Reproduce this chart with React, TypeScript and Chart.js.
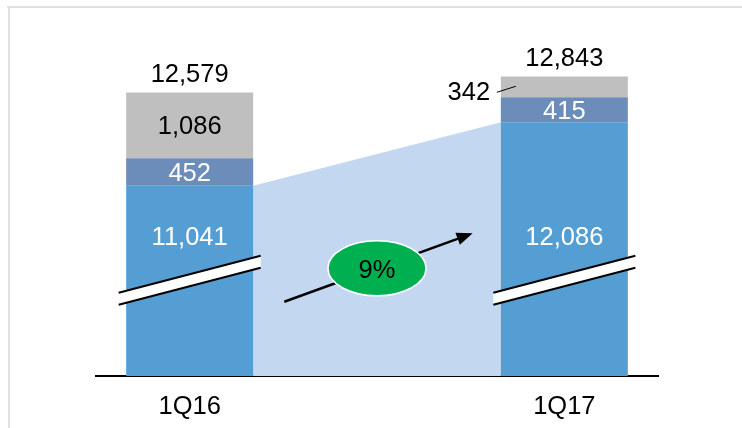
import React, { useEffect, useRef } from 'react';
import { Chart, registerables } from 'chart.js';

Chart.register(...registerables);

// ---- data ----
const categories = ['1Q16', '', '1Q17'];
const coreValues: (number | null)[] = [11041, null, 12086];
const midValues: (number | null)[] = [452, null, 415];
const otherValues: (number | null)[] = [1086, null, 342];
const totalValues: (number | null)[] = [12579, null, 12843];
const growthLabel = '9%';

// ---- axis (broken axis: starts above zero) ----
const AXIS_MIN = 7900;
const AXIS_MAX = 13774;
const BREAK_VALUE = 9480;
const CORE_LABEL_VALUE = 10218;
const GROWTH_VALUE = 9677;

const FONT = '"Liberation Sans", Arial, Helvetica, sans-serif';
const FS = 25.5;
const CAP = FS * 0.716;

const C_CORE = '#559ED3';
const C_MID = '#6C8DBA';
const C_OTHER = '#BFBFBF';
const C_BRIDGE = '#C3D8F0';
const C_GREEN = '#00B050';

const fmt = (v: number) => String(v).replace(/\B(?=(\d{3})+(?!\d))/g, ',');

function textAt(ctx: CanvasRenderingContext2D, s: string, x: number, cy: number, color: string) {
  ctx.fillStyle = color;
  ctx.font = `${FS}px ${FONT}`;
  ctx.textAlign = 'center';
  ctx.textBaseline = 'alphabetic';
  ctx.fillText(s, x, cy + CAP / 2);
}

const overlay = {
  id: 'overlay',
  beforeDraw(chart: any) {
    const ctx = chart.ctx;
    ctx.save();
    ctx.fillStyle = '#FFFFFF';
    ctx.fillRect(0, 0, chart.width, chart.height);
    ctx.fillStyle = '#E1E1E1';
    ctx.fillRect(7, 6, chart.width - 7, 2);
    ctx.fillRect(8, 6, 2, chart.height - 6);
    ctx.restore();
  },
  beforeDatasetsDraw(chart: any) {
    const ctx = chart.ctx;
    const meta = chart.getDatasetMeta(0);
    const a = meta.data[0];
    const b = meta.data[2];
    const bottom = chart.chartArea.bottom;
    ctx.save();
    ctx.fillStyle = C_BRIDGE;
    ctx.beginPath();
    ctx.moveTo(a.x + a.width / 2, a.y);
    ctx.lineTo(b.x - b.width / 2, b.y);
    ctx.lineTo(b.x - b.width / 2, bottom);
    ctx.lineTo(a.x + a.width / 2, bottom);
    ctx.closePath();
    ctx.fill();
    ctx.restore();
  },
  afterDatasetsDraw(chart: any) {
    const ctx = chart.ctx;
    const ys = chart.scales.y;
    const xs = chart.scales.x;
    const m0 = chart.getDatasetMeta(0);
    const m1 = chart.getDatasetMeta(1);
    const m2 = chart.getDatasetMeta(2);
    ctx.save();

    // axis break marks
    [0, 2].forEach((i) => {
      const el = m0.data[i];
      const cx = el.x;
      const hw = el.width / 2 + 7.5;
      const yc = ys.getPixelForValue(BREAK_VALUE);
      const slope = -0.26;
      const yAt = (x: number) => yc + slope * (x - cx);
      const xl = cx - hw;
      const xr = cx + hw;
      ctx.fillStyle = '#FFFFFF';
      ctx.beginPath();
      ctx.moveTo(xl, yAt(xl) - 6);
      ctx.lineTo(xr, yAt(xr) - 6);
      ctx.lineTo(xr, yAt(xr) + 6);
      ctx.lineTo(xl, yAt(xl) + 6);
      ctx.closePath();
      ctx.fill();
      ctx.strokeStyle = '#000000';
      ctx.lineWidth = 2;
      ctx.beginPath();
      ctx.moveTo(xl, yAt(xl) - 6);
      ctx.lineTo(xr, yAt(xr) - 6);
      ctx.moveTo(xl, yAt(xl) + 6);
      ctx.lineTo(xr, yAt(xr) + 6);
      ctx.stroke();
    });

    // labels
    categories.forEach((_, i) => {
      if (coreValues[i] == null) return;
      const e0 = m0.data[i];
      const e1 = m1.data[i];
      const e2 = m2.data[i];
      textAt(ctx, fmt(coreValues[i] as number), e0.x, ys.getPixelForValue(CORE_LABEL_VALUE), '#FFFFFF');
      textAt(ctx, fmt(midValues[i] as number), e1.x, (e1.y + e1.base) / 2, '#FFFFFF');
      const segH = Math.abs(e2.base - e2.y);
      const segC = (e2.y + e2.base) / 2;
      if (segH > 30) {
        textAt(ctx, fmt(otherValues[i] as number), e2.x, segC, '#000000');
      } else {
        const left = e2.x - e2.width / 2;
        textAt(ctx, fmt(otherValues[i] as number), left - 32, segC + 4.5, '#000000');
        ctx.strokeStyle = '#000000';
        ctx.lineWidth = 1;
        ctx.beginPath();
        ctx.moveTo(left - 4, segC + 5.5);
        ctx.lineTo(left + 15, segC - 0.5);
        ctx.stroke();
      }
      textAt(ctx, fmt(totalValues[i] as number), e2.x, e2.y - 19.5, '#000000');
    });

    // growth arrow + ellipse
    const gx = xs.getPixelForValue(1);
    const gy = ys.getPixelForValue(GROWTH_VALUE);
    const sx = gx - 92.7, sy = gy + 33.4;
    const tx = gx + 95.7, ty = gy - 35;
    const dx = tx - sx, dy = ty - sy;
    const len = Math.hypot(dx, dy);
    const ux = dx / len, uy = dy / len;
    const nx = -uy, ny = ux;
    const hl = 16, hwid = 6.5;
    const bx = tx - ux * hl, by = ty - uy * hl;
    ctx.strokeStyle = '#000000';
    ctx.lineWidth = 2.5;
    ctx.beginPath();
    ctx.moveTo(sx, sy);
    ctx.lineTo(bx + ux * 2, by + uy * 2);
    ctx.stroke();
    ctx.fillStyle = '#000000';
    ctx.beginPath();
    ctx.moveTo(tx, ty);
    ctx.lineTo(bx + nx * hwid, by + ny * hwid);
    ctx.lineTo(bx - nx * hwid, by - ny * hwid);
    ctx.closePath();
    ctx.fill();

    ctx.fillStyle = C_GREEN;
    ctx.strokeStyle = '#FFFFFF';
    ctx.lineWidth = 1.5;
    ctx.beginPath();
    ctx.ellipse(gx, gy, 49, 27.5, 0, 0, Math.PI * 2);
    ctx.fill();
    ctx.stroke();
    textAt(ctx, growthLabel, gx, gy + 0.7, '#000000');

    ctx.restore();
  },
};

export default function App() {
  const ref = useRef<HTMLCanvasElement>(null);
  useEffect(() => {
    if (!ref.current) return;
    const chart = new Chart(ref.current, {
      type: 'bar',
      data: {
        labels: categories,
        datasets: [
          { data: coreValues, backgroundColor: C_CORE, borderWidth: 0 },
          { data: midValues, backgroundColor: C_MID, borderWidth: 0 },
          { data: otherValues, backgroundColor: C_OTHER, borderWidth: 0 },
        ],
      },
      options: {
        responsive: false,
        animation: false,
        layout: { padding: { left: 96, right: 84, top: 20, bottom: 0 } },
        datasets: { bar: { categoryPercentage: 1, barPercentage: 0.678 } },
        plugins: { legend: { display: false }, tooltip: { enabled: false } },
        scales: {
          x: {
            stacked: true,
            z: 1,
            grid: { display: false, drawTicks: false },
            border: { display: true, color: '#000000', width: 2 },
            ticks: { color: '#000000', font: { family: FONT, size: FS }, padding: 16, maxRotation: 0 },
            afterFit: (s: any) => { s.height = 52; },
          },
          y: {
            stacked: true,
            display: false,
            min: AXIS_MIN,
            max: AXIS_MAX,
          },
        },
      },
      plugins: [overlay],
    } as any);
    return () => chart.destroy();
  }, []);
  return (
    <canvas
      ref={ref}
      width={742}
      height={428}
      style={{ position: 'fixed', left: 0, top: 0, width: 742, height: 428, display: 'block' }}
    />
  );
}
